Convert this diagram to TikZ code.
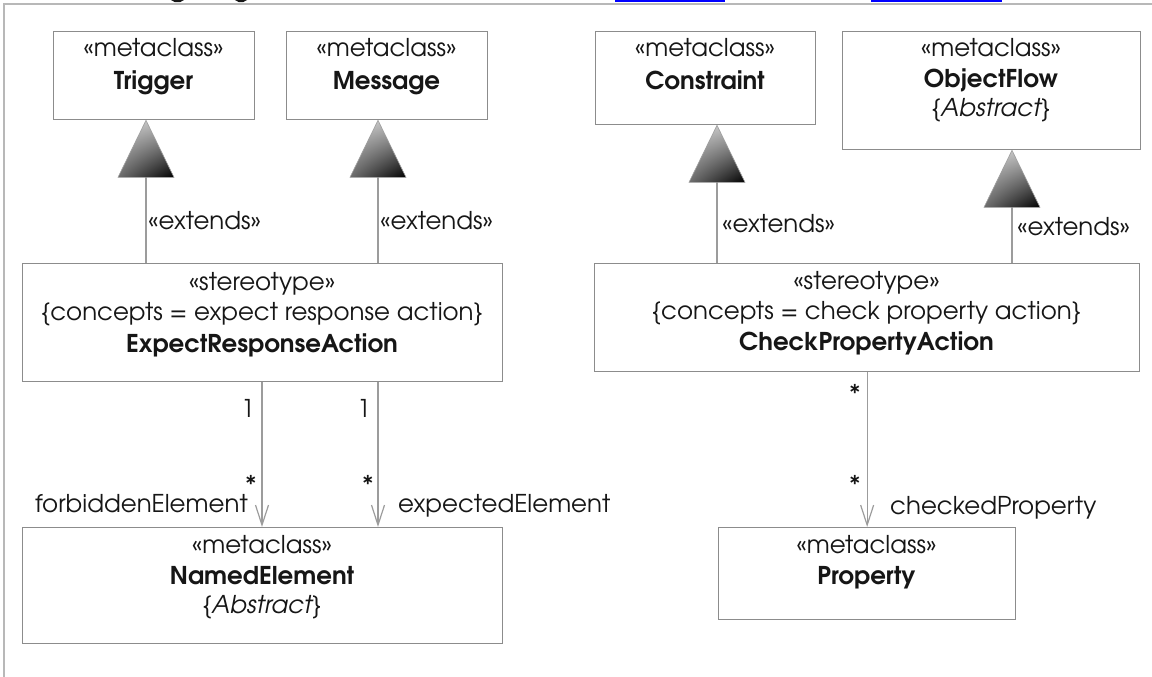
\documentclass[tikz,border=0pt]{standalone}
\usepackage{fontspec}
\setmainfont{texgyreadventor}[Extension=.otf, UprightFont=*-regular, BoldFont=*-bold, ItalicFont=*-italic, BoldItalicFont=*-bolditalic]
\usetikzlibrary{arrows.meta,calc,shadings}

\definecolor{edge}{HTML}{8C8C8C}
\definecolor{wire}{HTML}{9C9C9C}
\definecolor{frame}{HTML}{B8B8B8}
\definecolor{ink}{HTML}{161616}
\definecolor{link}{HTML}{0000FF}

\tikzset{
  box/.style={draw=edge, line width=1.3pt, fill=white, anchor=north west, inner sep=0pt},
  txt/.style={inner sep=0pt, text=ink, font=\fontsize{24.5}{29}\selectfont},
  conn/.style={draw=wire, line width=1.3pt},
  assoc/.style={conn, -{Straight Barb[length=20pt, width=13pt, line width=1.2pt]}},
  gentri/.style={draw=gray!75, line width=0.6pt,
    upper left=gray!35, upper right=gray!55, lower left=gray!85!black, lower right=black}
}

\begin{document}
\begin{tikzpicture}[x=1pt, y=-1pt]
\useasboundingbox (0,0) rectangle (1152,677);

% cut-off strip of the page above and the surrounding frame
\fill[ink] (171,0) -- (184,0) -- (180,2.2) -- (175,2.2) -- cycle;
\fill[ink] (235,0) -- (247,0) -- (243,2.2) -- (239,2.2) -- cycle;
\draw[link, line width=1.6pt] (615,0.8) -- (725,0.8);
\draw[link, line width=1.6pt] (871,0.8) -- (1002,0.8);
\draw[frame, line width=2pt] (4,677) -- (4,4) -- (1152,4);

% ---- class boxes
\node[box, minimum width=201pt, minimum height=88pt]  (trig)  at (53,31)  {};
\node[box, minimum width=201pt, minimum height=88pt]  (msg)   at (286,31) {};
\node[box, minimum width=220pt, minimum height=93pt]  (cons)  at (595,31) {};
\node[box, minimum width=298pt, minimum height=118pt] (oflow) at (842,31) {};
\node[box, minimum width=480pt, minimum height=118pt] (era)   at (22,263) {};
\node[box, minimum width=545pt, minimum height=108pt] (cpa)   at (594,263) {};
\node[box, minimum width=480pt, minimum height=116pt] (named) at (22,527) {};
\node[box, minimum width=297pt, minimum height=92pt]  (prop)  at (718,527) {};

% ---- box contents
\node[txt, anchor=base] (trigA) at (153.5,57) {«metaclass»};
\node[txt, anchor=base] (trigB) at (153.5,89) {\textbf{Trigger}};

\node[txt, anchor=base] (msgA) at (386.5,57) {«metaclass»};
\node[txt, anchor=base] (msgB) at (386.5,89) {\textbf{Message}};

\node[txt, anchor=base] (consA) at (705,57) {«metaclass»};
\node[txt, anchor=base] (consB) at (705,89) {\textbf{Constraint}};

\node[txt, anchor=base] (oflowA) at (991,57)  {«metaclass»};
\node[txt, anchor=base] (oflowB) at (991,88)  {\textbf{ObjectFlow}};
\node[txt, anchor=base] (oflowC) at (991,117) {\itshape\{Abstract\}};

\node[txt, anchor=base] (eraA) at (262,290) {«stereotype»};
\node[txt, anchor=base] (eraB) at (262,320) {\{concepts = expect response action\}};
\node[txt, anchor=base] (eraC) at (262,352) {\textbf{ExpectResponseAction}};

\node[txt, anchor=base] (cpaA) at (866.5,289) {«stereotype»};
\node[txt, anchor=base] (cpaB) at (866.5,319) {\{concepts = check property action\}};
\node[txt, anchor=base] (cpaC) at (866.5,350) {\textbf{CheckPropertyAction}};

\node[txt, anchor=base] (namedA) at (262,553) {«metaclass»};
\node[txt, anchor=base] (namedB) at (262,584) {\textbf{NamedElement}};
\node[txt, anchor=base] (namedC) at (262,613) {\itshape\{Abstract\}};

\node[txt, anchor=base] (propA) at (866.5,553) {«metaclass»};
\node[txt, anchor=base] (propB) at (866.5,584) {\textbf{Property}};

% ---- extension connectors with filled triangle heads
\coordinate (tipT) at (trig.south -| 146,0);
\coordinate (tipM) at (msg.south -| 378,0);
\coordinate (tipC) at (cons.south -| 717,0);
\coordinate (tipO) at (oflow.south -| 1012,0);

\foreach \t/\s in {tipT/era, tipM/era, tipC/cpa, tipO/cpa}{
  \draw[conn] ($(\t)+(0,57)$) -- (\s.north -| \t);
  \shadedraw[gentri] (\t) -- ++(28,57) -- ++(-56,0) -- cycle;
}

\node[txt, anchor=base west] (extT) at (148,229)  {«extends»};
\node[txt, anchor=base west] (extM) at (380,229)  {«extends»};
\node[txt, anchor=base west] (extC) at (722,232)  {«extends»};
\node[txt, anchor=base west] (extO) at (1017,235) {«extends»};

% ---- associations
\coordinate (colF) at (262,0);
\coordinate (colE) at (378,0);
\draw[assoc] (era.south -| colF) -- (named.north -| colF);
\draw[assoc] (era.south -| colE) -- (named.north -| colE);
\draw[assoc] (cpa.south) -- (prop.north);

\node[txt, anchor=center] (mF1) at (248,408) {1};
\node[txt, anchor=center] (mE1) at (364,408) {1};
\node[txt, anchor=center] (mF2) at (251,484) {*};
\node[txt, anchor=center] (mE2) at (368,484) {*};
\node[txt, anchor=center] (mC1) at (855,393) {*};
\node[txt, anchor=center] (mC2) at (855,484) {*};

\node[txt, anchor=base east] (roleF) at (248,512) {forbiddenElement};
\node[txt, anchor=base west] (roleE) at (398,512) {expectedElement};
\node[txt, anchor=base west] (roleC) at (890,514) {checkedProperty};
\end{tikzpicture}
\end{document}
